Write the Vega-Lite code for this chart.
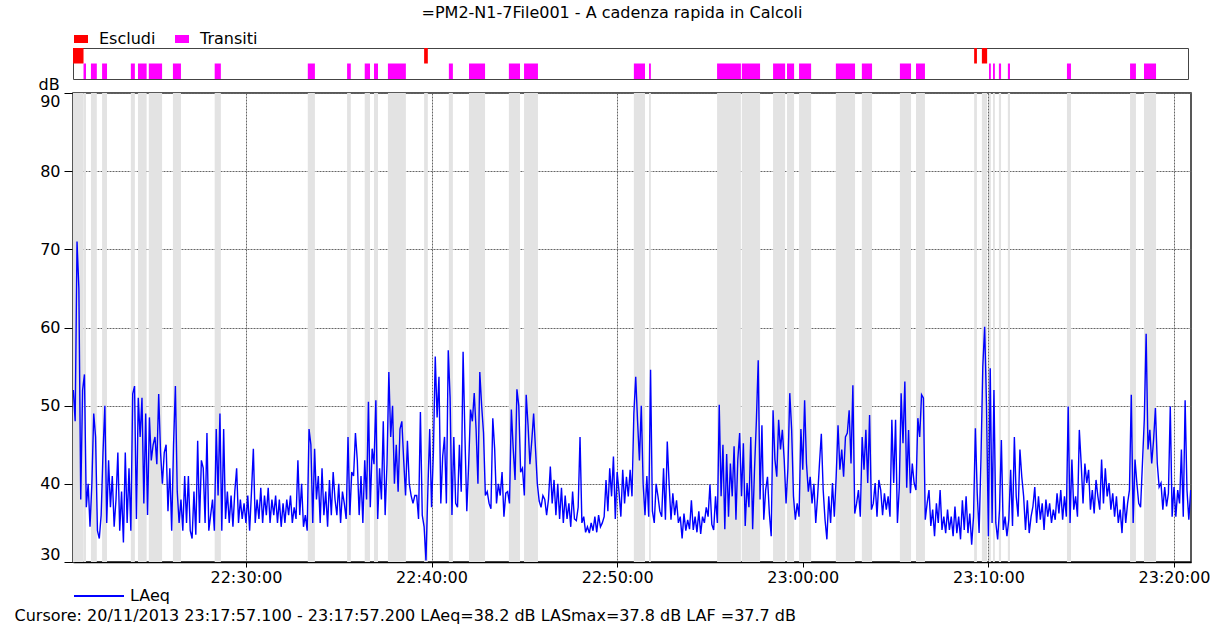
{
"$schema": "https://vega.github.io/schema/vega-lite/v6.json",
"padding": {"left": 13, "top": 5, "right": 5, "bottom": 2},
"background": "white",
"title": {"text": "=PM2-N1-7File001 - A cadenza rapida in Calcoli", "anchor": "middle", "font": "DejaVu Sans", "fontSize": 16, "fontWeight": "normal", "color": "#000", "offset": 10},
"datasets": {
"iv": [
{"k":"Escludi","s":1241,"e":1275},{"k":"Escludi","s":2376,"e":2388},{"k":"Escludi","s":4154,"e":4163},{"k":"Escludi","s":4179,"e":4196},
{"k":"Transiti","s":1275,"e":1283},{"k":"Transiti","s":1299,"e":1318},{"k":"Transiti","s":1335,"e":1351},{"k":"Transiti","s":1428,"e":1441},{"k":"Transiti","s":1451,"e":1479},{"k":"Transiti","s":1486,"e":1529},{"k":"Transiti","s":1564,"e":1590},{"k":"Transiti","s":1699,"e":1719},{"k":"Transiti","s":2000,"e":2023},{"k":"Transiti","s":2127,"e":2139},{"k":"Transiti","s":2184,"e":2201},{"k":"Transiti","s":2214,"e":2227},{"k":"Transiti","s":2259,"e":2317},{"k":"Transiti","s":2456,"e":2469},{"k":"Transiti","s":2521,"e":2573},{"k":"Transiti","s":2650,"e":2686},{"k":"Transiti","s":2699,"e":2744},{"k":"Transiti","s":3054,"e":3090},{"k":"Transiti","s":3103,"e":3109},{"k":"Transiti","s":3323,"e":3400},{"k":"Transiti","s":3403,"e":3462},{"k":"Transiti","s":3504,"e":3543},{"k":"Transiti","s":3549,"e":3572},{"k":"Transiti","s":3588,"e":3627},{"k":"Transiti","s":3707,"e":3769},{"k":"Transiti","s":3791,"e":3824},{"k":"Transiti","s":3914,"e":3950},{"k":"Transiti","s":3966,"e":3995},{"k":"Transiti","s":4202,"e":4208},{"k":"Transiti","s":4215,"e":4221},{"k":"Transiti","s":4234,"e":4241},{"k":"Transiti","s":4263,"e":4270},{"k":"Transiti","s":4454,"e":4467},{"k":"Transiti","s":4658,"e":4677},{"k":"Transiti","s":4703,"e":4742}
],
"s": [
{"t":1242,"v":52},{"t":1248,"v":48},{"t":1254,"v":71},{"t":1260,"v":65},{"t":1266,"v":38},{"t":1272,"v":52},{"t":1278,"v":54},{"t":1284,"v":37},{"t":1290,"v":40},{"t":1296,"v":34.5},
{"t":1302,"v":40},{"t":1308,"v":49},{"t":1314,"v":46},{"t":1320,"v":34},{"t":1326,"v":33},{"t":1332,"v":36},{"t":1338,"v":44},{"t":1344,"v":50},{"t":1350,"v":35},{"t":1356,"v":43},
{"t":1362,"v":37},{"t":1368,"v":41},{"t":1374,"v":34.5},{"t":1380,"v":38},{"t":1386,"v":44},{"t":1392,"v":34},{"t":1398,"v":39},{"t":1404,"v":32.5},{"t":1410,"v":44},{"t":1416,"v":35},
{"t":1422,"v":42},{"t":1428,"v":34},{"t":1434,"v":51.5},{"t":1440,"v":52.5},{"t":1446,"v":35.5},{"t":1452,"v":51},{"t":1458,"v":46},{"t":1464,"v":51},{"t":1470,"v":37.5},{"t":1476,"v":49},
{"t":1482,"v":36},{"t":1488,"v":48.5},{"t":1494,"v":43},{"t":1500,"v":45},{"t":1506,"v":46},{"t":1512,"v":42.5},{"t":1518,"v":51.5},{"t":1524,"v":44},{"t":1530,"v":40},{"t":1536,"v":44},
{"t":1542,"v":45},{"t":1548,"v":36.5},{"t":1554,"v":42},{"t":1560,"v":34},{"t":1566,"v":45},{"t":1572,"v":52.5},{"t":1578,"v":39},{"t":1584,"v":35},{"t":1590,"v":38},{"t":1596,"v":34},
{"t":1602,"v":41},{"t":1608,"v":35},{"t":1614,"v":41},{"t":1620,"v":34},{"t":1626,"v":33},{"t":1632,"v":39},{"t":1638,"v":33.5},{"t":1644,"v":45.5},{"t":1650,"v":35},{"t":1656,"v":43},
{"t":1662,"v":42},{"t":1668,"v":35},{"t":1674,"v":46.5},{"t":1680,"v":34},{"t":1686,"v":36},{"t":1692,"v":38},{"t":1698,"v":34},{"t":1704,"v":47},{"t":1710,"v":38.5},{"t":1716,"v":49},
{"t":1722,"v":34},{"t":1728,"v":47},{"t":1734,"v":35.5},{"t":1740,"v":39},{"t":1746,"v":35},{"t":1752,"v":38.5},{"t":1758,"v":34.5},{"t":1764,"v":39},{"t":1770,"v":42},{"t":1776,"v":35},
{"t":1782,"v":38},{"t":1788,"v":35.5},{"t":1794,"v":37.5},{"t":1800,"v":35},{"t":1806,"v":38.5},{"t":1812,"v":34},{"t":1818,"v":39},{"t":1824,"v":44.5},{"t":1830,"v":35},{"t":1836,"v":38},
{"t":1842,"v":35.5},{"t":1848,"v":39.5},{"t":1854,"v":35},{"t":1860,"v":38.5},{"t":1866,"v":36},{"t":1872,"v":39.5},{"t":1878,"v":35},{"t":1884,"v":38},{"t":1890,"v":36},{"t":1896,"v":38.5},
{"t":1902,"v":35},{"t":1908,"v":38},{"t":1914,"v":34.5},{"t":1920,"v":37.5},{"t":1926,"v":35},{"t":1932,"v":38},{"t":1938,"v":36},{"t":1944,"v":38.5},{"t":1950,"v":35},{"t":1956,"v":37},
{"t":1962,"v":35.5},{"t":1968,"v":43},{"t":1974,"v":36},{"t":1980,"v":40},{"t":1986,"v":34.5},{"t":1992,"v":36},{"t":1998,"v":34},{"t":2004,"v":47},{"t":2010,"v":45},{"t":2016,"v":35},
{"t":2022,"v":44.5},{"t":2028,"v":38},{"t":2034,"v":41},{"t":2040,"v":35},{"t":2046,"v":42},{"t":2052,"v":36},{"t":2058,"v":39},{"t":2064,"v":34.5},{"t":2070,"v":40.5},{"t":2076,"v":36},
{"t":2082,"v":41.5},{"t":2088,"v":38},{"t":2094,"v":36},{"t":2100,"v":40},{"t":2106,"v":35},{"t":2112,"v":39},{"t":2118,"v":37.5},{"t":2124,"v":35.5},{"t":2130,"v":46},{"t":2136,"v":36},
{"t":2142,"v":41.5},{"t":2148,"v":41},{"t":2154,"v":46.5},{"t":2160,"v":43},{"t":2166,"v":36},{"t":2172,"v":41},{"t":2178,"v":35},{"t":2184,"v":43},{"t":2190,"v":38},{"t":2196,"v":50.5},
{"t":2202,"v":37},{"t":2208,"v":44.5},{"t":2214,"v":42.5},{"t":2220,"v":50.7},{"t":2226,"v":35.5},{"t":2232,"v":42},{"t":2238,"v":38},{"t":2244,"v":48},{"t":2250,"v":36},{"t":2256,"v":42.5},
{"t":2262,"v":54.3},{"t":2268,"v":46},{"t":2274,"v":50},{"t":2280,"v":40},{"t":2286,"v":45},{"t":2292,"v":39},{"t":2298,"v":47},{"t":2304,"v":48},{"t":2310,"v":43},{"t":2316,"v":38.5},
{"t":2322,"v":45.5},{"t":2328,"v":40},{"t":2334,"v":38.5},{"t":2340,"v":37.5},{"t":2346,"v":38.5},{"t":2352,"v":38.5},{"t":2358,"v":35.5},{"t":2364,"v":49.2},{"t":2370,"v":36},{"t":2376,"v":34.5},
{"t":2382,"v":30.2},{"t":2388,"v":39},{"t":2394,"v":47},{"t":2400,"v":37},{"t":2406,"v":44},{"t":2412,"v":56.3},{"t":2418,"v":48.5},{"t":2424,"v":53.7},{"t":2430,"v":37.5},{"t":2436,"v":43.5},
{"t":2442,"v":46},{"t":2448,"v":37.5},{"t":2454,"v":57.1},{"t":2460,"v":51},{"t":2466,"v":36},{"t":2472,"v":46},{"t":2478,"v":37.5},{"t":2484,"v":37},{"t":2490,"v":45},{"t":2496,"v":39},
{"t":2502,"v":56.9},{"t":2508,"v":46},{"t":2514,"v":36.5},{"t":2520,"v":42.5},{"t":2526,"v":49.5},{"t":2532,"v":48},{"t":2538,"v":51.6},{"t":2544,"v":47},{"t":2550,"v":40},{"t":2556,"v":54.3},
{"t":2562,"v":50},{"t":2568,"v":46.5},{"t":2574,"v":38.5},{"t":2580,"v":39},{"t":2586,"v":37.5},{"t":2592,"v":36.8},{"t":2598,"v":48.4},{"t":2604,"v":44.5},{"t":2610,"v":37.5},{"t":2616,"v":40},
{"t":2622,"v":38.5},{"t":2628,"v":41.5},{"t":2634,"v":35.8},{"t":2640,"v":38.8},{"t":2646,"v":39},{"t":2652,"v":37.5},{"t":2658,"v":49.5},{"t":2664,"v":44.5},{"t":2670,"v":40.5},{"t":2676,"v":52.1},
{"t":2682,"v":50},{"t":2688,"v":41.5},{"t":2694,"v":42},{"t":2700,"v":38.5},{"t":2706,"v":51.4},{"t":2712,"v":47.5},{"t":2718,"v":42.5},{"t":2724,"v":45.5},{"t":2730,"v":49},{"t":2736,"v":44.5},
{"t":2742,"v":40},{"t":2748,"v":37.8},{"t":2754,"v":37},{"t":2760,"v":38.5},{"t":2766,"v":38},{"t":2772,"v":36},{"t":2778,"v":38},{"t":2784,"v":42.2},{"t":2790,"v":37.5},{"t":2796,"v":40.5},
{"t":2802,"v":36},{"t":2808,"v":40},{"t":2814,"v":35.5},{"t":2820,"v":39.5},{"t":2826,"v":35},{"t":2832,"v":38.5},{"t":2838,"v":35.5},{"t":2844,"v":37.5},{"t":2850,"v":34.5},{"t":2856,"v":39},
{"t":2862,"v":35.5},{"t":2868,"v":35.3},{"t":2874,"v":37},{"t":2880,"v":46},{"t":2886,"v":35},{"t":2892,"v":35.8},{"t":2898,"v":33.8},{"t":2904,"v":34.5},{"t":2910,"v":33.7},{"t":2916,"v":35},
{"t":2922,"v":34},{"t":2928,"v":35.8},{"t":2934,"v":33.8},{"t":2940,"v":36},{"t":2946,"v":34.5},{"t":2952,"v":35},{"t":2958,"v":35.8},{"t":2964,"v":40.5},{"t":2970,"v":36.5},{"t":2976,"v":42},
{"t":2982,"v":38.4},{"t":2988,"v":43.5},{"t":2994,"v":35.5},{"t":3000,"v":41.5},{"t":3006,"v":39},{"t":3012,"v":35.8},{"t":3018,"v":41.8},{"t":3024,"v":37.5},{"t":3030,"v":40.9},{"t":3036,"v":38.4},
{"t":3042,"v":41.8},{"t":3048,"v":38.4},{"t":3054,"v":49},{"t":3060,"v":53.7},{"t":3066,"v":48},{"t":3072,"v":43},{"t":3078,"v":50},{"t":3084,"v":40},{"t":3090,"v":36},{"t":3096,"v":41},
{"t":3102,"v":35.8},{"t":3108,"v":54.6},{"t":3114,"v":36.5},{"t":3120,"v":35},{"t":3126,"v":40},{"t":3132,"v":38.4},{"t":3138,"v":36.5},{"t":3144,"v":35.8},{"t":3150,"v":42},{"t":3156,"v":35.4},
{"t":3162,"v":45.4},{"t":3168,"v":40},{"t":3174,"v":35.4},{"t":3180,"v":38.8},{"t":3186,"v":36},{"t":3192,"v":37.9},{"t":3198,"v":35},{"t":3204,"v":35.8},{"t":3210,"v":33},{"t":3216,"v":36.2},
{"t":3222,"v":34},{"t":3228,"v":35.4},{"t":3234,"v":34.2},{"t":3240,"v":37.9},{"t":3246,"v":34.1},{"t":3252,"v":35.8},{"t":3258,"v":33.8},{"t":3264,"v":36.5},{"t":3270,"v":33.6},{"t":3276,"v":35.8},
{"t":3282,"v":35},{"t":3288,"v":37},{"t":3294,"v":35.8},{"t":3300,"v":39.9},{"t":3306,"v":34.8},{"t":3312,"v":34.1},{"t":3318,"v":38.4},{"t":3324,"v":35},{"t":3330,"v":50.1},{"t":3336,"v":38.4},
{"t":3342,"v":45},{"t":3348,"v":34.2},{"t":3354,"v":43.8},{"t":3360,"v":35.8},{"t":3366,"v":42.6},{"t":3372,"v":38.4},{"t":3378,"v":44.8},{"t":3384,"v":35.4},{"t":3390,"v":43.1},{"t":3396,"v":46.5},
{"t":3402,"v":38.4},{"t":3408,"v":45.2},{"t":3414,"v":34.6},{"t":3420,"v":40.1},{"t":3426,"v":37},{"t":3432,"v":46},{"t":3438,"v":34.2},{"t":3444,"v":41.8},{"t":3450,"v":48},{"t":3456,"v":55.8},
{"t":3462,"v":38},{"t":3468,"v":47.5},{"t":3474,"v":35.4},{"t":3480,"v":39.2},{"t":3486,"v":40.9},{"t":3492,"v":36.2},{"t":3498,"v":33.3},{"t":3504,"v":49.4},{"t":3510,"v":43.1},{"t":3516,"v":40.9},
{"t":3522,"v":48.2},{"t":3528,"v":44.4},{"t":3534,"v":46.9},{"t":3540,"v":43.1},{"t":3546,"v":37.5},{"t":3552,"v":42},{"t":3558,"v":51.6},{"t":3564,"v":47},{"t":3570,"v":38.4},{"t":3576,"v":35.4},
{"t":3582,"v":37.5},{"t":3588,"v":35.8},{"t":3594,"v":47},{"t":3600,"v":41.8},{"t":3606,"v":50.7},{"t":3612,"v":42.6},{"t":3618,"v":39},{"t":3624,"v":40.9},{"t":3630,"v":37.5},{"t":3636,"v":40},
{"t":3642,"v":35},{"t":3648,"v":38.4},{"t":3654,"v":42.6},{"t":3660,"v":46.4},{"t":3666,"v":39.2},{"t":3672,"v":35.4},{"t":3678,"v":32.9},{"t":3684,"v":38.4},{"t":3690,"v":35},{"t":3696,"v":40.1},
{"t":3702,"v":35.8},{"t":3708,"v":40.9},{"t":3714,"v":47.5},{"t":3720,"v":41.8},{"t":3726,"v":44.4},{"t":3732,"v":40.9},{"t":3738,"v":46},{"t":3744,"v":46.5},{"t":3750,"v":49.4},{"t":3756,"v":42.6},
{"t":3762,"v":52.6},{"t":3768,"v":36.2},{"t":3774,"v":37.5},{"t":3780,"v":39.2},{"t":3786,"v":35.8},{"t":3792,"v":46},{"t":3798,"v":41.8},{"t":3804,"v":46.9},{"t":3810,"v":40.1},{"t":3816,"v":48.8},
{"t":3822,"v":36.7},{"t":3828,"v":37.5},{"t":3834,"v":40.1},{"t":3840,"v":35.8},{"t":3846,"v":40.5},{"t":3852,"v":39.2},{"t":3858,"v":36},{"t":3864,"v":38.8},{"t":3870,"v":36.7},{"t":3876,"v":38.4},
{"t":3882,"v":35.8},{"t":3888,"v":48.2},{"t":3894,"v":40.1},{"t":3900,"v":48.2},{"t":3906,"v":35},{"t":3912,"v":39.5},{"t":3918,"v":51.6},{"t":3924,"v":45.2},{"t":3930,"v":53.1},{"t":3936,"v":39.5},
{"t":3942,"v":46.9},{"t":3948,"v":38.8},{"t":3954,"v":42.6},{"t":3960,"v":40.1},{"t":3966,"v":39.2},{"t":3972,"v":48.4},{"t":3978,"v":46},{"t":3984,"v":51.4},{"t":3990,"v":51},{"t":3996,"v":35.4},
{"t":4002,"v":37.5},{"t":4008,"v":39.2},{"t":4014,"v":34.6},{"t":4020,"v":36.7},{"t":4026,"v":33.3},{"t":4032,"v":37.5},{"t":4038,"v":35},{"t":4044,"v":39.2},{"t":4050,"v":34.1},{"t":4056,"v":35.8},
{"t":4062,"v":33.7},{"t":4068,"v":36.7},{"t":4074,"v":34.1},{"t":4080,"v":35.8},{"t":4086,"v":33.3},{"t":4092,"v":37.1},{"t":4098,"v":33.7},{"t":4104,"v":35.8},{"t":4110,"v":32.9},{"t":4116,"v":37.9},
{"t":4122,"v":34.1},{"t":4128,"v":38.4},{"t":4134,"v":33.7},{"t":4140,"v":36.2},{"t":4146,"v":32.2},{"t":4152,"v":35.8},{"t":4158,"v":47.1},{"t":4164,"v":38.8},{"t":4170,"v":33.7},{"t":4176,"v":43.1},
{"t":4182,"v":55},{"t":4188,"v":60.1},{"t":4194,"v":50},{"t":4200,"v":33.3},{"t":4206,"v":54.8},{"t":4212,"v":35},{"t":4218,"v":52},{"t":4224,"v":35},{"t":4230,"v":32.9},{"t":4236,"v":36.7},
{"t":4242,"v":45.6},{"t":4248,"v":34.1},{"t":4254,"v":35.8},{"t":4260,"v":33.3},{"t":4266,"v":35.4},{"t":4272,"v":41.8},{"t":4278,"v":34.6},{"t":4284,"v":46},{"t":4290,"v":38.4},{"t":4296,"v":35.8},
{"t":4302,"v":44.4},{"t":4308,"v":40.9},{"t":4314,"v":38.4},{"t":4320,"v":34.1},{"t":4326,"v":37.9},{"t":4332,"v":33.7},{"t":4338,"v":35.8},{"t":4344,"v":37.1},{"t":4350,"v":39.6},{"t":4356,"v":35},
{"t":4362,"v":38.4},{"t":4368,"v":35.4},{"t":4374,"v":37.5},{"t":4380,"v":34.1},{"t":4386,"v":38},{"t":4392,"v":35.8},{"t":4398,"v":37.5},{"t":4404,"v":35},{"t":4410,"v":36.7},{"t":4416,"v":35.4},
{"t":4422,"v":38.8},{"t":4428,"v":36.2},{"t":4434,"v":39.2},{"t":4440,"v":35.4},{"t":4446,"v":38.4},{"t":4452,"v":35.8},{"t":4458,"v":49.9},{"t":4464,"v":35},{"t":4470,"v":43.1},{"t":4476,"v":36.7},
{"t":4482,"v":38.4},{"t":4488,"v":35.8},{"t":4494,"v":46.9},{"t":4500,"v":42.6},{"t":4506,"v":37.5},{"t":4512,"v":42.6},{"t":4518,"v":40.1},{"t":4524,"v":41.8},{"t":4530,"v":36.7},{"t":4536,"v":39.2},
{"t":4542,"v":36.2},{"t":4548,"v":40.5},{"t":4554,"v":38.4},{"t":4560,"v":36.7},{"t":4566,"v":43.1},{"t":4572,"v":37.5},{"t":4578,"v":42},{"t":4584,"v":38.4},{"t":4590,"v":40.1},{"t":4596,"v":36.7},
{"t":4602,"v":38.8},{"t":4608,"v":35.8},{"t":4614,"v":38.4},{"t":4620,"v":35},{"t":4626,"v":36.7},{"t":4632,"v":33.7},{"t":4638,"v":38.4},{"t":4644,"v":35},{"t":4650,"v":37.5},{"t":4656,"v":39.2},
{"t":4662,"v":51.4},{"t":4668,"v":35},{"t":4674,"v":43.1},{"t":4680,"v":40.1},{"t":4686,"v":37.5},{"t":4692,"v":37},{"t":4698,"v":42.6},{"t":4704,"v":48.2},{"t":4710,"v":59.2},{"t":4716,"v":44.4},
{"t":4722,"v":46.9},{"t":4728,"v":42.6},{"t":4734,"v":45.6},{"t":4740,"v":49.7},{"t":4746,"v":42.6},{"t":4752,"v":39.6},{"t":4758,"v":40.1},{"t":4764,"v":36.7},{"t":4770,"v":39.6},{"t":4776,"v":37.1},
{"t":4782,"v":38.8},{"t":4788,"v":49.9},{"t":4794,"v":35.8},{"t":4800,"v":39.6},{"t":4806,"v":35.8},{"t":4812,"v":39.2},{"t":4818,"v":37.5},{"t":4824,"v":44.4},{"t":4830,"v":35.8},{"t":4836,"v":50.7},
{"t":4842,"v":39.2},{"t":4848,"v":35.4},{"t":4854,"v":39.2}
]
},
"bounds": "flush",
"spacing": 14,
"vconcat": [
{
"width": 1115,
"height": 31,
"view": {"stroke": "#444", "strokeWidth": 1},
"data": {"name": "iv"},
"mark": {"type": "rect"},
"encoding": {
"x": {"field": "s", "type": "quantitative", "scale": {"domain": [1241, 4855], "range": [0, 1118], "nice": false, "zero": false}, "axis": null},
"x2": {"field": "e"},
"y": {"field": "k", "type": "nominal", "scale": {"domain": ["Escludi", "Transiti"], "paddingInner": 0, "paddingOuter": 0}, "axis": null},
"color": {"field": "k", "type": "nominal", "scale": {"domain": ["Escludi", "Transiti"], "range": ["#ff0000", "#ff00ff"]},
"legend": {"orient": "none", "legendX": 0, "legendY": -17, "direction": "horizontal", "title": null, "symbolType": "M-1,-0.57H1V0.57H-1Z", "symbolSize": 196, "symbolOpacity": 1, "symbolStrokeWidth": 0, "labelOffset": 10, "columnPadding": 18, "labelFontSize": 16, "labelFont": "DejaVu Sans", "padding": 0}}
}
},
{
"width": 1118,
"height": 469,
"view": {"stroke": "#222", "strokeWidth": 1.5},
"layer": [
{
"data": {"name": "iv"},
"mark": {"type": "rect", "color": "#e3e3e3"},
"encoding": {
"x": {"field": "s", "type": "quantitative", "scale": {"domain": [1241, 4855], "nice": false, "zero": false},
"axis": {"values": [1800, 2400, 3000, 3600, 4200, 4800], "labelExpr": "timeFormat(datetime(2013,10,20,22,0,datum.value),'%H:%M:%S')", "grid": true, "gridColor": "#666", "gridDash": [2, 1], "tickSize": 5, "tickColor": "#000", "labelPadding": 2, "domainColor": "#000", "domainWidth": 1.5, "labelFlush": false, "title": "Cursore: 20/11/2013 23:17:57.100 - 23:17:57.200  LAeq=38.2 dB  LASmax=37.8 dB  LAF =37.7 dB", "titleAnchor": "start", "titleAlign": "left", "titleX": -59, "titleY": 53, "titleBaseline": "middle"}},
"x2": {"field": "e"}
}
},
{
"data": {"name": "s"},
"mark": {"type": "line", "strokeWidth": 1.4, "clip": true},
"encoding": {
"x": {"field": "t", "type": "quantitative"},
"y": {"field": "v", "type": "quantitative", "scale": {"domain": [30, 90], "nice": false, "zero": false},
"axis": {"values": [30, 40, 50, 60, 70, 80, 90], "grid": true, "gridColor": "#666", "gridDash": [2, 1], "tickSize": 9, "tickColor": "#000", "labelPadding": 4, "labelFlush": true, "domainColor": "#555", "domainWidth": 2, "title": "dB", "titleAngle": 0, "titleAlign": "left", "titleBaseline": "bottom", "titleX": -35, "titleY": -1}},
"stroke": {"datum": "LAeq", "type": "nominal", "scale": {"range": ["#0000ff"]},
"legend": {"orient": "none", "legendX": 0, "legendY": 522, "title": null, "symbolType": "stroke", "symbolSize": 2500, "symbolStrokeWidth": 2, "labelOffset": 5, "labelFontSize": 16, "labelFont": "DejaVu Sans", "padding": 0, "encode": {"symbols": {"update": {"stroke": {"value": "#7f7fff"}}}}}}
}
},
{
"mark": {"type": "rule", "color": "#ff5050", "strokeWidth": 2},
"encoding": {"x": {"datum": 4677.1, "type": "quantitative"}}
},
{
"mark": {"type": "point", "shape": "M-1,-0.45L1,-0.45L0,0.45Z", "filled": true, "color": "#2040ff", "size": 81, "yOffset": -8, "opacity": 1},
"encoding": {"x": {"datum": 2379, "type": "quantitative"}, "y": {"datum": 90, "type": "quantitative"}}
}
]
}
],
"config": {
"font": "DejaVu Sans",
"view": {"stroke": "#333", "strokeWidth": 1},
"axis": {"labelFont": "DejaVu Sans", "labelFontSize": 16, "labelColor": "#000", "titleFont": "DejaVu Sans", "titleFontSize": 16, "titleFontWeight": "normal", "titleColor": "#000", "gridOpacity": 1, "labelOverlap": false},
"legend": {"labelFont": "DejaVu Sans", "labelFontSize": 16, "labelColor": "#000"}
}
}
